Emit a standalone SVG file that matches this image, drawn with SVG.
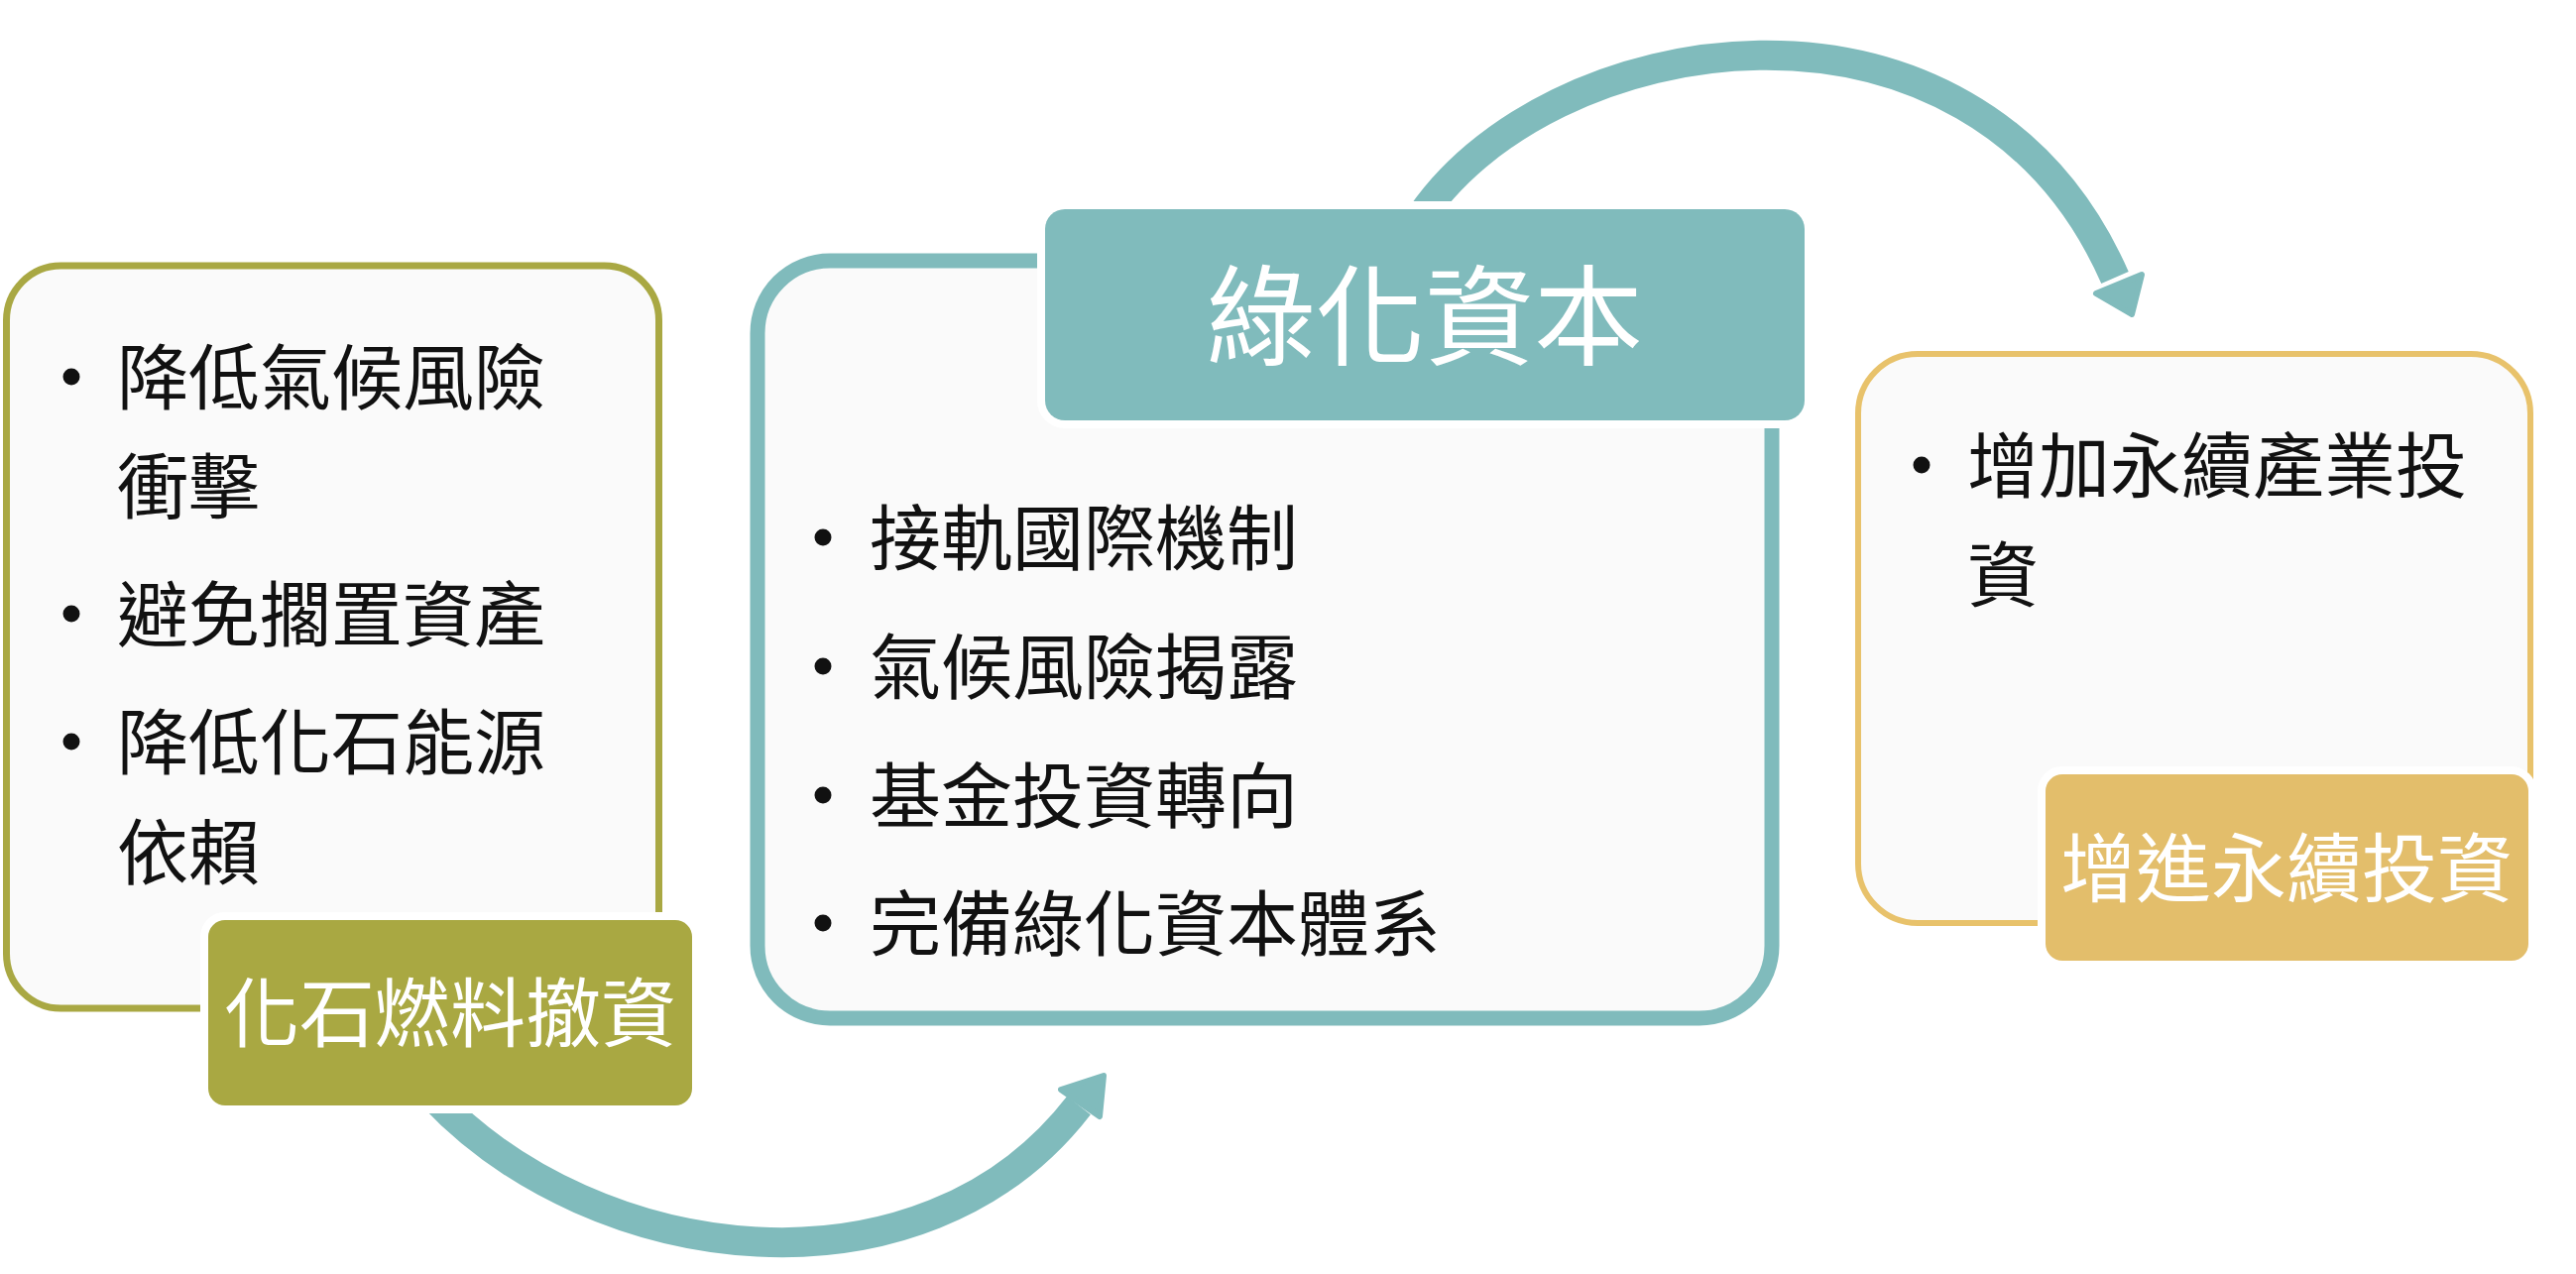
<svg xmlns="http://www.w3.org/2000/svg" width="2598" height="1285" viewBox="0 0 2598 1285">
<style>
  .box { fill: #FAFAFA; }
  .body { font-family: "Noto Sans CJK TC", "Noto Sans CJK SC", sans-serif; font-size: 72px; fill: #111; }
  .lbl { font-family: "Noto Sans CJK TC", "Noto Sans CJK SC", sans-serif; font-size: 76px; fill: #FFFFFF; text-anchor: middle; }
  .lblbig { font-family: "Noto Sans CJK TC", "Noto Sans CJK SC", sans-serif; font-size: 110px; fill: #FFFFFF; text-anchor: middle; }
  .tag { stroke: #FFFFFF; stroke-width: 16; paint-order: stroke; }
  .dot { fill: #111; }
  .arc { fill: none; stroke: #80BBBC; stroke-width: 30; }
  .head { fill: #80BBBC; stroke: #80BBBC; stroke-width: 6; stroke-linejoin: round; }
</style>
<rect width="2598" height="1285" fill="#FFFFFF"/>

<g id="connectors">
  <path class="arc" d="M 436 1105 C 600 1280, 930 1320, 1088 1115"/>
  <polygon class="head" points="1113,1085 1070,1099 1109,1126"/>
  <path class="arc" d="M 1428 226 C 1555 25, 1990 -45, 2133 280"/>
  <polygon class="head" points="2150,317 2114,296 2160,277"/>
</g>

<g id="node-fossil">
  <rect class="box" x="6.5" y="268" width="658" height="749" rx="55" stroke="#A9A843" stroke-width="7"/>
  <circle class="dot" cx="72" cy="380" r="8.5"/>
  <text class="body" x="118" y="407">降低氣候風險</text>
  <text class="body" x="118" y="517">衝擊</text>
  <circle class="dot" cx="72" cy="619" r="8.5"/>
  <text class="body" x="118" y="646">避免擱置資產</text>
  <circle class="dot" cx="72" cy="748" r="8.5"/>
  <text class="body" x="118" y="775">降低化石能源</text>
  <text class="body" x="118" y="886">依賴</text>
  <rect class="tag" x="210" y="928" width="488" height="187" rx="17" fill="#A9A842"/>
  <text class="lbl" x="454" y="1050">化石燃料撤資</text>
</g>

<g id="node-green">
  <rect class="box" x="764" y="263" width="1023" height="764" rx="73" stroke="#80BBBC" stroke-width="15"/>
  <circle class="dot" cx="830" cy="542" r="8.5"/>
  <text class="body" x="877" y="569">接軌國際機制</text>
  <circle class="dot" cx="830" cy="672" r="8.5"/>
  <text class="body" x="877" y="699">氣候風險揭露</text>
  <circle class="dot" cx="830" cy="802" r="8.5"/>
  <text class="body" x="877" y="829">基金投資轉向</text>
  <circle class="dot" cx="830" cy="931" r="8.5"/>
  <text class="body" x="877" y="958">完備綠化資本體系</text>
  <rect class="tag" x="1054" y="211" width="766" height="213" rx="20" fill="#80BBBC"/>
  <text class="lblbig" x="1437" y="360">綠化資本</text>
</g>

<g id="node-sustain">
  <rect class="box" x="1874" y="357" width="678" height="574" rx="60" stroke="#E8C26B" stroke-width="6"/>
  <circle class="dot" cx="1938" cy="469" r="8.5"/>
  <text class="body" x="1984" y="496">增加永續產業投</text>
  <text class="body" x="1984" y="606">資</text>
  <rect class="tag" x="2063" y="781" width="487" height="188" rx="17" fill="#E3BE6B"/>
  <text class="lbl" x="2306" y="904">增進永續投資</text>
</g>
</svg>
